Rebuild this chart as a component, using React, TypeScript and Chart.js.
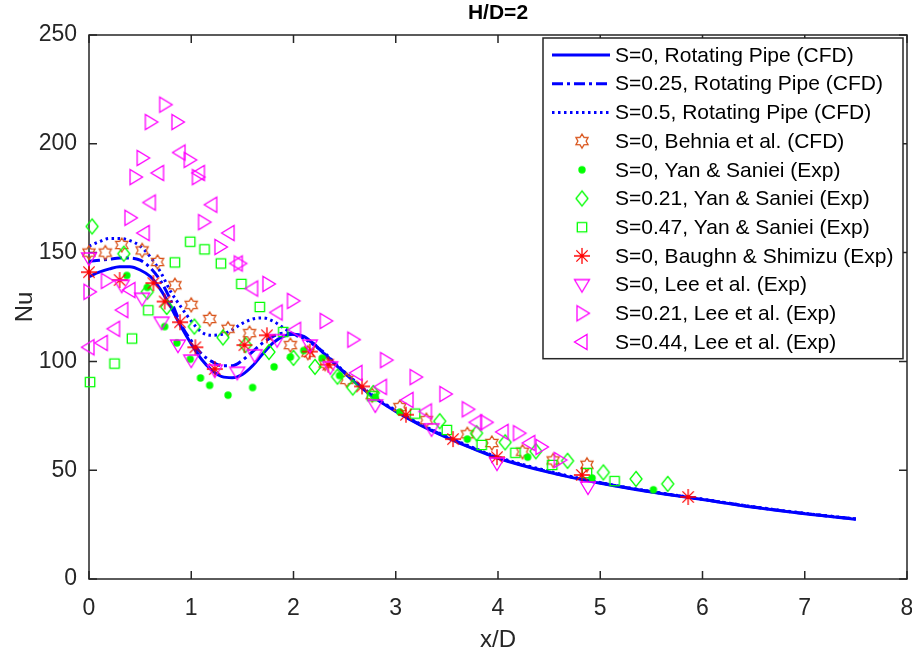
import React, { useEffect, useRef } from 'react';
import { Chart, registerables } from 'chart.js';

Chart.register(...registerables);

const FONT = '"Liberation Sans", Arial, Helvetica, sans-serif';
const AX = '#262626';
const BLUE = '#0000FF';
const ORANGE = '#D95319';
const GREEN = '#00FF00';
const RED = '#FF0000';
const MAGENTA = '#FF00FF';

const titleText = 'H/D=2';
const xLabel = 'x/D';
const yLabel = 'Nu';
const xTickValues = [0, 1, 2, 3, 4, 5, 6, 7, 8];
const yTickValues = [0, 50, 100, 150, 200, 250];

const seriesLabels = [
  'S=0, Rotating Pipe (CFD)',
  'S=0.25, Rotating Pipe (CFD)',
  'S=0.5, Rotating Pipe (CFD)',
  'S=0, Behnia et al. (CFD)',
  'S=0, Yan & Saniei (Exp)',
  'S=0.21, Yan & Saniei (Exp)',
  'S=0.47, Yan & Saniei (Exp)',
  'S=0, Baughn & Shimizu (Exp)',
  'S=0, Lee et al. (Exp)',
  'S=0.21, Lee et al. (Exp)',
  'S=0.44, Lee et al. (Exp)',
];

// CFD curves (x/D grid shared by the three curves)
const lineX = [0, 0.1, 0.2, 0.3, 0.4, 0.5, 0.6, 0.7, 0.8, 0.9, 1.0, 1.1, 1.2, 1.3, 1.4, 1.5, 1.6, 1.7, 1.8, 1.9, 2.0, 2.1, 2.2, 2.3, 2.4, 2.6, 2.8, 3.0, 3.25, 3.5, 3.75, 4.0, 4.5, 5.0, 5.5, 6.0, 6.5, 7.0, 7.5];
const cfdS0 = [139, 141, 142.5, 143.5, 143.5, 142, 139, 133, 125, 116, 108, 101, 96, 93, 92.5, 94, 98, 103.5, 108.5, 111.5, 112.5, 111.5, 108, 103.5, 99, 90.5, 83, 77, 70.5, 65, 60, 55.5, 49, 44, 40, 36.5, 33, 30, 27.5];
const cfdS025 = [146, 146.5, 147, 147.5, 147.5, 146.5, 143, 137, 128, 117, 109.5, 103.5, 100, 98, 98, 100.5, 104.5, 108.5, 111.5, 113, 112.5, 111, 108, 103.7, 99.2, 90.7, 83.2, 77.2, 70.7, 65.2, 60.2, 55.7, 49.2, 44.2, 40.1, 36.6, 33.1, 30.1, 27.6];
const cfdS05 = [153, 155, 156.5, 156.5, 155.5, 153, 148, 141, 132, 125, 118.5, 113.5, 112, 112.5, 114.5, 117.5, 119.5, 120, 118.5, 115.5, 112.5, 110.5, 107.5, 104, 99.5, 91, 83.5, 77.5, 71, 65.5, 60.5, 56, 49.5, 44.3, 40.2, 36.7, 33.2, 30.2, 27.6];

// Behnia et al. (CFD), S=0
const behniaX = [0, 0.16, 0.32, 0.52, 0.67, 0.84, 1.0, 1.18, 1.36, 1.57, 1.97, 2.14, 2.31, 2.52, 2.77, 3.04, 3.3, 3.7, 3.94, 4.24, 4.54, 4.87];
const behniaY = [150, 150, 153.5, 151, 145.7, 135, 126, 119.5, 115, 113, 107.5, 104, 99, 91.5, 84.5, 79, 73, 66.5, 62.5, 58.5, 54.5, 52.5];

// Yan & Saniei (Exp)
const yanS0X = [0.37, 0.57, 0.74, 0.86, 0.99, 1.09, 1.18, 1.36, 1.6, 1.81, 1.97, 2.1, 2.28, 2.45, 2.8, 3.04, 3.7, 4.29, 4.92, 5.52];
const yanS0Y = [139.5, 134, 116, 108.5, 101, 92.4, 89, 84.5, 88, 97.5, 102, 105, 101.5, 93.5, 83.6, 76.7, 64.3, 56, 46.4, 41];
const yanS021X = [0.03, 0.34, 0.57, 0.76, 1.03, 1.31, 1.53, 1.76, 2.0, 2.21, 2.43, 2.58, 2.78, 3.43, 3.79, 4.07, 4.37, 4.68, 5.03, 5.35, 5.66];
const yanS021Y = [162, 149.5, 132, 125, 116, 111, 107.5, 104.3, 101.6, 97.5, 93, 88, 85.5, 72.5, 67, 62.8, 58.7, 54.3, 49, 46, 43.7];
const yanS047X = [0.01, 0.25, 0.42, 0.58, 0.84, 0.99, 1.13, 1.29, 1.49, 1.67, 1.9, 2.77, 3.19, 3.5, 3.84, 4.17, 4.53, 4.87, 5.14];
const yanS047Y = [90.5, 99, 110.5, 123.5, 145.5, 155, 151.5, 145, 135.6, 125, 113.5, 84, 76, 68.5, 61.6, 58, 52.4, 48.7, 45];

// Baughn & Shimizu (Exp), S=0
const baughnX = [0, 0.3, 0.63, 0.74, 0.89, 1.04, 1.23, 1.52, 1.74, 2.16, 2.34, 2.67, 3.1, 3.56, 3.99, 4.82, 5.86];
const baughnY = [141, 137.4, 136, 127.5, 118, 106.5, 96.5, 107.5, 112, 104.5, 98.5, 88.5, 75.5, 64.3, 56, 47.8, 37.7];

// Lee et al. (Exp)
const leeS0X = [0, 0.32, 0.52, 0.71, 0.87, 1.0, 1.23, 1.45, 1.62, 1.84, 2.16, 2.36, 2.8, 3.35, 3.99, 4.88];
const leeS0Y = [147.5, 135, 129, 118, 107.5, 100.6, 96, 95, 103, 110, 107.5, 97.5, 80, 69, 53.3, 42.3];
const leeS021X = [0, 0.17, 0.4, 0.45, 0.52, 0.6, 0.74, 0.86, 0.98, 1.06, 1.12, 1.28, 1.47, 1.75, 1.99, 2.31, 2.58, 2.9, 3.19, 3.48, 3.7, 3.88, 4.2, 4.42, 4.6];
const leeS021Y = [132, 137, 166, 184.7, 193.5, 210, 218, 210, 192.6, 184.7, 164, 152.6, 145, 135.6, 127.8, 118.6, 110, 100.6, 92.8, 85, 78, 72, 67, 60.7, 54.7];
const leeS044X = [0, 0.13, 0.25, 0.33, 0.4, 0.54, 0.6, 0.68, 0.89, 1.08, 1.2, 1.37, 1.45, 1.6, 1.84, 2.02, 2.62, 2.86, 3.12, 3.3, 3.79, 4.05, 4.31];
const leeS044Y = [106.5, 108.5, 115, 123.6, 132.8, 159, 173, 186.6, 196, 186.6, 172, 159, 145, 133.5, 122.5, 114.5, 94.7, 88.3, 82.3, 77, 72, 67.6, 62.5];

const pts = (xs: number[], ys: number[]) => xs.map((x, i) => ({ x, y: ys[i] }));

type Pt = [number, number];

function makeMarker(draw: (g: CanvasRenderingContext2D) => void): HTMLCanvasElement {
  const c = document.createElement('canvas');
  c.width = 24;
  c.height = 24;
  const g = c.getContext('2d') as CanvasRenderingContext2D;
  g.translate(12, 12);
  g.lineWidth = 1.3;
  g.lineJoin = 'miter';
  draw(g);
  return c;
}

function polyStroke(g: CanvasRenderingContext2D, p: Pt[], color: string) {
  g.strokeStyle = color;
  g.beginPath();
  p.forEach(([x, y], i) => (i === 0 ? g.moveTo(x, y) : g.lineTo(x, y)));
  g.closePath();
  g.stroke();
}

function buildMarkers() {
  const hex: Pt[] = [];
  for (let k = 0; k < 12; k++) {
    const a = ((-90 + 30 * k) * Math.PI) / 180;
    const r = k % 2 === 0 ? 7 : 4.1;
    hex.push([r * Math.cos(a), r * Math.sin(a)]);
  }
  return {
    hexagram: makeMarker((g) => polyStroke(g, hex, ORANGE)),
    dot: makeMarker((g) => {
      g.fillStyle = GREEN;
      g.beginPath();
      g.arc(0, 0, 3.7, 0, Math.PI * 2);
      g.fill();
    }),
    diamond: makeMarker((g) => polyStroke(g, [[0, -7.5], [6, 0], [0, 7.5], [-6, 0]], GREEN)),
    square: makeMarker((g) => polyStroke(g, [[-4.7, -4.7], [4.7, -4.7], [4.7, 4.7], [-4.7, 4.7]], GREEN)),
    asterisk: makeMarker((g) => {
      g.strokeStyle = RED;
      g.beginPath();
      const r = 8;
      const d = r * Math.SQRT1_2;
      g.moveTo(-r, 0); g.lineTo(r, 0);
      g.moveTo(0, -r); g.lineTo(0, r);
      g.moveTo(-d, -d); g.lineTo(d, d);
      g.moveTo(-d, d); g.lineTo(d, -d);
      g.stroke();
    }),
    triDown: makeMarker((g) => polyStroke(g, [[-7.5, -5], [7.5, -5], [0, 7.5]], MAGENTA)),
    triRight: makeMarker((g) => polyStroke(g, [[-5, -7.5], [-5, 7.5], [7.5, 0]], MAGENTA)),
    triLeft: makeMarker((g) => polyStroke(g, [[5, -7.5], [5, 7.5], [-7.5, 0]], MAGENTA)),
  };
}

const DASHDOT = [11, 4, 3, 4];
const DOTTED = [2.5, 3.5];

export default function App() {
  const ref = useRef<HTMLCanvasElement | null>(null);

  useEffect(() => {
    document.body.style.margin = '0';
    const canvas = ref.current;
    if (!canvas) return;
    const m = buildMarkers();

    const lineDs = (label: string, ys: number[], dash: number[], order: number) => ({
      label,
      data: pts(lineX, ys),
      showLine: true,
      borderColor: BLUE,
      backgroundColor: BLUE,
      borderWidth: 3,
      borderDash: dash,
      pointRadius: 0,
      cubicInterpolationMode: 'monotone' as const,
      order,
    });
    const markDs = (label: string, xs: number[], ys: number[], img: HTMLCanvasElement, order: number) => ({
      label,
      data: pts(xs, ys),
      showLine: false,
      pointStyle: img,
      pointRadius: 7,
      pointHoverRadius: 7,
      clip: false as const,
      order,
    });

    const legendItems = [
      { kind: 'line', dash: [] as number[] },
      { kind: 'line', dash: DASHDOT },
      { kind: 'line', dash: DOTTED },
      { kind: 'mark', img: m.hexagram },
      { kind: 'mark', img: m.dot },
      { kind: 'mark', img: m.diamond },
      { kind: 'mark', img: m.square },
      { kind: 'mark', img: m.asterisk },
      { kind: 'mark', img: m.triDown },
      { kind: 'mark', img: m.triRight },
      { kind: 'mark', img: m.triLeft },
    ] as any[];

    const framePlugin = {
      id: 'mframe',
      beforeDatasetsDraw(chart: any) {
        const { ctx, chartArea: a, scales } = chart;
        ctx.save();
        ctx.strokeStyle = AX;
        ctx.lineWidth = 1.5;
        ctx.beginPath();
        const tl = 8;
        xTickValues.forEach((v) => {
          const px = scales.x.getPixelForValue(v);
          ctx.moveTo(px, a.bottom); ctx.lineTo(px, a.bottom - tl);
          ctx.moveTo(px, a.top); ctx.lineTo(px, a.top + tl);
        });
        yTickValues.forEach((v) => {
          const py = scales.y.getPixelForValue(v);
          ctx.moveTo(a.left, py); ctx.lineTo(a.left + tl, py);
          ctx.moveTo(a.right, py); ctx.lineTo(a.right - tl, py);
        });
        ctx.stroke();
        ctx.strokeRect(a.left, a.top, a.right - a.left, a.bottom - a.top);
        ctx.restore();
      },
      afterDraw(chart: any) {
        const { ctx, chartArea: a } = chart;
        ctx.save();
        // title
        ctx.fillStyle = '#000';
        ctx.font = `bold 21px ${FONT}`;
        ctx.textAlign = 'center';
        ctx.textBaseline = 'middle';
        ctx.fillText(titleText, (a.left + a.right) / 2, 13);
        // legend
        const bw = 360;
        const x1 = a.right - 4;
        const x0 = x1 - bw;
        const y0 = a.top + 3;
        const rowH = 28.7;
        const bh = rowH * legendItems.length + 5;
        ctx.fillStyle = '#fff';
        ctx.fillRect(x0, y0, bw, bh);
        ctx.strokeStyle = AX;
        ctx.lineWidth = 1.5;
        ctx.strokeRect(x0, y0, bw, bh);
        ctx.font = `21px ${FONT}`;
        ctx.textAlign = 'left';
        legendItems.forEach((it, i) => {
          const cy = y0 + 17 + i * rowH;
          if (it.kind === 'line') {
            ctx.save();
            ctx.strokeStyle = BLUE;
            ctx.lineWidth = 3;
            ctx.setLineDash(it.dash);
            ctx.beginPath();
            ctx.moveTo(x0 + 9, cy);
            ctx.lineTo(x0 + 67, cy);
            ctx.stroke();
            ctx.restore();
          } else {
            ctx.drawImage(it.img, x0 + 39 - 12, cy - 12);
          }
          ctx.fillStyle = '#000';
          ctx.fillText(seriesLabels[i], x0 + 72, cy + 1);
        });
        ctx.restore();
      },
    };

    const N = seriesLabels.length;
    const chart = new Chart(canvas, {
      type: 'scatter',
      data: {
        datasets: [
          lineDs(seriesLabels[0], cfdS0, [], N),
          lineDs(seriesLabels[1], cfdS025, DASHDOT, N - 1),
          lineDs(seriesLabels[2], cfdS05, DOTTED, N - 2),
          markDs(seriesLabels[3], behniaX, behniaY, m.hexagram, N - 3),
          markDs(seriesLabels[4], yanS0X, yanS0Y, m.dot, N - 4),
          markDs(seriesLabels[5], yanS021X, yanS021Y, m.diamond, N - 5),
          markDs(seriesLabels[6], yanS047X, yanS047Y, m.square, N - 6),
          markDs(seriesLabels[7], baughnX, baughnY, m.asterisk, N - 7),
          markDs(seriesLabels[8], leeS0X, leeS0Y, m.triDown, N - 8),
          markDs(seriesLabels[9], leeS021X, leeS021Y, m.triRight, N - 9),
          markDs(seriesLabels[10], leeS044X, leeS044Y, m.triLeft, N - 10),
        ] as any,
      },
      options: {
        animation: false,
        responsive: false,
        devicePixelRatio: 1,
        events: [],
        layout: { padding: { top: 35, right: 5, left: 0, bottom: 0 } },
        plugins: {
          legend: { display: false },
          title: { display: false },
          tooltip: { enabled: false },
        },
        scales: {
          x: {
            type: 'linear',
            min: 0,
            max: 8,
            grid: { display: false, drawTicks: false },
            border: { display: false },
            ticks: {
              stepSize: 1,
              color: AX,
              padding: 16,
              maxRotation: 0,
              font: { family: FONT, size: 23 },
            },
            title: {
              display: true,
              text: xLabel,
              color: AX,
              font: { family: FONT, size: 24 },
              padding: { top: 0, bottom: 1 },
            },
            afterFit: (s: any) => {
              s.height = 77;
              s.paddingRight = 0;
              s.paddingLeft = 0;
            },
          },
          y: {
            type: 'linear',
            min: 0,
            max: 250,
            grid: { display: false, drawTicks: false },
            border: { display: false },
            ticks: {
              stepSize: 50,
              color: AX,
              padding: 12,
              font: { family: FONT, size: 23 },
            },
            title: {
              display: true,
              text: yLabel,
              color: AX,
              font: { family: FONT, size: 24 },
              padding: { top: 11, bottom: 0 },
            },
            afterFit: (s: any) => {
              s.width = 89;
              s.paddingTop = 0;
              s.paddingBottom = 0;
              s.paddingLeft = 0;
              s.paddingRight = 0;
            },
          },
        },
      } as any,
      plugins: [framePlugin],
    });

    // force the plot box to the reference position (left 89, right 907)
    const fixArea = {
      id: 'fixArea',
      afterLayout(c: any) {
        const a = c.chartArea;
        const targetRight = 907;
        if (Math.abs(a.right - targetRight) > 0.5) {
          a.right = targetRight;
          a.width = a.right - a.left;
          c.scales.x.right = targetRight;
          c.scales.x.width = targetRight - c.scales.x.left;
          c.scales.x.configure();
        }
      },
    };
    chart.config.plugins.push(fixArea);
    chart.update();

    return () => chart.destroy();
  }, []);

  return (
    <div style={{ width: 912, height: 656 }}>
      <canvas ref={ref} width={912} height={656} style={{ display: 'block', width: 912, height: 656 }} />
    </div>
  );
}
